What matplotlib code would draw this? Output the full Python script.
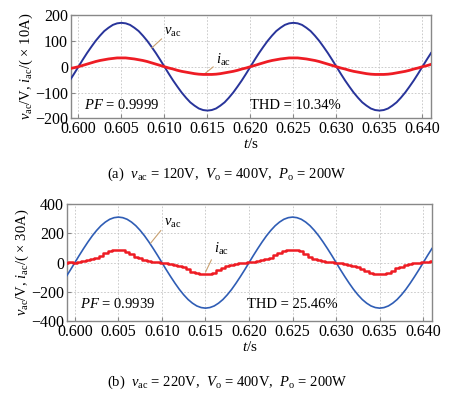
import numpy as np
import matplotlib
matplotlib.use("Agg")
import matplotlib.pyplot as plt

plt.rcParams['font.family'] = ['Liberation Serif', 'DejaVu Serif']
plt.rcParams['mathtext.fontset'] = 'custom'
plt.rcParams['mathtext.rm'] = 'Liberation Serif'
plt.rcParams['mathtext.it'] = 'Liberation Serif:italic'
plt.rcParams['mathtext.bf'] = 'Liberation Serif:bold'

# time samples (s), 0.5 ms grid from 0.599 to 0.641
t = np.round(np.arange(0.599, 0.64101, 0.0005), 4)

# (a) vac = 120 V
vac_a = [-53, -27,
         0, 27, 53, 77, 100, 120, 138, 151, 162, 168, 170, 168, 162, 151, 138, 120, 100, 77, 53, 27,
         0, -27, -53, -77, -100, -120, -138, -151, -162, -168, -170, -168, -162, -151, -138, -120, -100, -77, -53, -27,
         0, 27, 53, 77, 100, 120, 138, 151, 162, 168, 170, 168, 162, 151, 138, 120, 100, 77, 53, 27,
         0, -27, -53, -77, -100, -120, -138, -151, -162, -168, -170, -168, -162, -151, -138, -120, -100, -77, -53, -27,
         0, 27, 53]
iac_a = [-7, -4,
         0, 5, 10, 15, 20, 24, 27, 30, 32, 34, 34, 34, 32, 30, 27, 24, 20, 15, 10, 5,
         0, -5, -9, -14, -18, -21, -24, -27, -29, -30, -30, -30, -29, -27, -24, -21, -18, -14, -9, -5,
         0, 5, 10, 15, 20, 24, 27, 30, 32, 34, 34, 34, 32, 30, 27, 24, 20, 15, 10, 5,
         0, -5, -9, -14, -18, -21, -24, -27, -29, -30, -30, -30, -29, -27, -24, -21, -18, -14, -9, -5,
         0, 4, 9]

# (b) vac = 220 V
vac_b = [-96, -49,
         0, 49, 96, 141, 183, 220, 252, 277, 296, 307, 311, 307, 296, 277, 252, 220, 183, 141, 96, 49,
         0, -49, -96, -141, -183, -220, -252, -277, -296, -307, -311, -307, -296, -277, -252, -220, -183, -141, -96, -49,
         0, 49, 96, 141, 183, 220, 252, 277, 296, 307, 311, 307, 296, 277, 252, 220, 183, 141, 96, 49,
         0, -49, -96, -141, -183, -220, -252, -277, -296, -307, -311, -307, -296, -277, -252, -220, -183, -141, -96, -49,
         0, 49, 96]
iac_b = [-2, 1,
         0, 6, 10, 18, 23, 34, 47, 66, 77, 85, 84, 86, 75, 59, 39, 29, 19, 13, 5, 3,
         0, -5, -9, -17, -21, -31, -43, -61, -71, -79, -81, -77, -71, -53, -39, -25, -19, -10, -6, -1,
         1, 5, 12, 16, 25, 32, 49, 64, 79, 83, 87, 83, 77, 57, 41, 27, 21, 11, 7, 2,
         -1, -4, -11, -15, -23, -29, -45, -59, -73, -78, -80, -79, -69, -55, -37, -27, -17, -12, -4, -2,
         1, 6, 13]

xticks = [0.600, 0.605, 0.610, 0.615, 0.620, 0.625, 0.630, 0.635, 0.640]
xticklabels = ['0.600', '0.605', '0.610', '0.615', '0.620', '0.625', '0.630', '0.635', '0.640']
yticks_a = [-200, -100, 0, 100, 200]
yticks_b = [-400, -200, 0, 200, 400]

fig = plt.figure(figsize=(4.6, 3.97), dpi=100)
ax1 = fig.add_axes([0.1537, 0.702, 0.7833, 0.260])
ax2 = fig.add_axes([0.1457, 0.191, 0.7933, 0.295])

red = '#ee1c24'
lead = '#c8a070'

def style(ax, yt):
    ax.set_xlim(0.5991, 0.6410)
    ax.set_xticks(xticks)
    ax.set_xticklabels(xticklabels)
    ax.set_yticks(yt)
    ax.set_yticklabels(['\u2212%d' % (-v) if v < 0 else '%d' % v for v in yt])
    ax.set_ylim(yt[0], yt[-1])
    ax.grid(True, color='#c4c4c4', linestyle=(0, (2, 2)), linewidth=0.6)
    for s in ax.spines.values():
        s.set_color('#888888')
        s.set_linewidth(1.0)
    ax.tick_params(direction='in', length=3, width=0.8, color='#888888',
                   labelsize=11.5, pad=2, labelcolor='black')
    ax.set_axisbelow(True)

# (a)
ax1.plot(t, vac_a, color='#28349a', lw=1.4, zorder=3)
ax1.plot(t, iac_a, color=red, lw=2.0, zorder=4)
style(ax1, yticks_a)
ax1.set_ylabel(r'$v_{\rm ac}$/V, $i_{\rm ac}$/( × 10A)', fontsize=10.5, labelpad=0)
ax1.set_xlabel(r'$t$/s', fontsize=11, labelpad=0)
ax1.annotate(r'$v_{\rm ac}$', xy=(0.6085, 72), xytext=(0.6100, 133), fontsize=10.5,
             va='center', ha='left',
             arrowprops=dict(arrowstyle='-', color=lead, lw=0.8, shrinkA=0, shrinkB=0,
                             relpos=(0, 0.2)))
ax1.annotate(r'$i_{\rm ac}$', xy=(0.6147, -27), xytext=(0.6160, 27), fontsize=10.5,
             va='center', ha='left',
             arrowprops=dict(arrowstyle='-', color=lead, lw=0.8, shrinkA=0, shrinkB=0,
                             relpos=(0, 0.2)))
ax1.text(0.6006, -149, r'$PF$ = 0.9999', fontsize=10.5, va='center', ha='left')
ax1.text(0.6199, -149, 'THD = 10.34%', fontsize=10.5, va='center', ha='left')
fig.text(0.493, 0.562, r'(a)  $v_{\rm ac}$ = 120V,  $V_{\rm o}$ = 400V,  $P_{\rm o}$ = 200W',
         fontsize=10.5, ha='center', va='center')

# (b)
ax2.plot(t, vac_b, color='#2f5db5', lw=1.2, zorder=3)
ax2.plot(t, iac_b, color=red, lw=1.8, drawstyle='steps-mid', zorder=4)
style(ax2, yticks_b)
ax2.set_ylabel(r'$v_{\rm ac}$/V, $i_{\rm ac}$/( × 30A)', fontsize=10.5, labelpad=0)
ax2.set_xlabel(r'$t$/s', fontsize=11, labelpad=0)
ax2.annotate(r'$v_{\rm ac}$', xy=(0.6087, 133), xytext=(0.6102, 270), fontsize=10.5,
             va='center', ha='left',
             arrowprops=dict(arrowstyle='-', color=lead, lw=0.8, shrinkA=0, shrinkB=0,
                             relpos=(0, 0.2)))
ax2.annotate(r'$i_{\rm ac}$', xy=(0.6150, -65), xytext=(0.6160, 92), fontsize=10.5,
             va='center', ha='left',
             arrowprops=dict(arrowstyle='-', color=lead, lw=0.8, shrinkA=0, shrinkB=0,
                             relpos=(0, 0.2)))
ax2.text(0.6006, -284, r'$PF$ = 0.9939', fontsize=10.5, va='center', ha='left')
ax2.text(0.6198, -284, 'THD = 25.46%', fontsize=10.5, va='center', ha='left')
fig.text(0.493, 0.038, r'(b)  $v_{\rm ac}$ = 220V,  $V_{\rm o}$ = 400V,  $P_{\rm o}$ = 200W',
         fontsize=10.5, ha='center', va='center')

fig.savefig('out.png', dpi=100)
